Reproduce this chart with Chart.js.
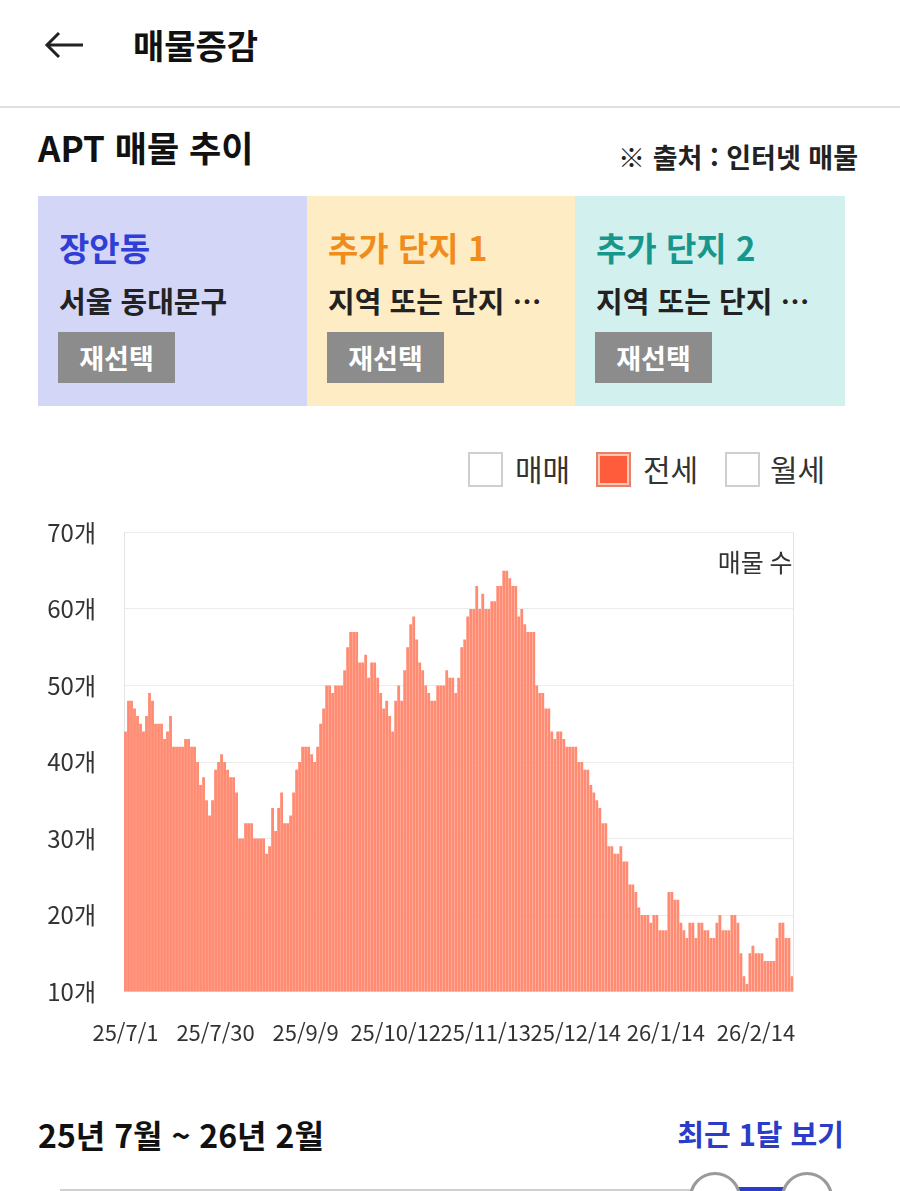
<!DOCTYPE html>
<html lang="ko">
<head>
<meta charset="utf-8">
<title>매물증감</title>
<script src="https://cdn.jsdelivr.net/npm/chart.js@4.4.1/dist/chart.umd.min.js"></script>
<style>
  html, body { margin: 0; padding: 0; background: #fff; }
  body {
    position: relative; width: 900px; height: 1191px; overflow: hidden;
    font-family: "Noto Sans CJK KR", "Noto Sans", sans-serif; color: #222;
  }
  .abs { position: absolute; white-space: nowrap; }
  .card { position: absolute; top: 196px; height: 210px; }
  .card .name { position: absolute; left: 21px; top: 29px; font-size: 33px; font-weight: 700; line-height: 44px; }
  .card .area { position: absolute; left: 21px; top: 84px; font-size: 29px; font-weight: 700; line-height: 40px; color: #222; }
  .card .btn {
    position: absolute; left: 20px; top: 136px; width: 117px; height: 51px;
    background: #8c8c8c; color: #fff; font-size: 27px; font-weight: 700;
    line-height: 51px; text-align: center;
  }
  .chk { position: absolute; top: 452px; width: 31px; height: 31px; border: 2px solid #cfcfcf; background: #fff; }
  .chk.on { background: #ff5c3c; border-color: #e9806a; box-shadow: inset 0 0 0 2px #ffc7b6; }
  .lg { position: absolute; top: 447px; font-size: 30px; line-height: 42px; color: #333; }
  #chartBox { position: absolute; left: 0; top: 490px; width: 820px; height: 584px; }
  .knob { position: absolute; top: 1172px; width: 46px; height: 46px; border: 3px solid #9a9a9a; border-radius: 50%; background: #fff; }
</style>
</head>
<body>

<svg class="abs" style="left:44px;top:30px" width="42" height="30">
  <line x1="3" y1="15" x2="39" y2="15" stroke="#222" stroke-width="3"/>
  <polyline points="15,3 3,15 15,27" fill="none" stroke="#222" stroke-width="3"/>
</svg>
<div class="abs" style="left:133px;top:22px;font-size:34px;font-weight:700;line-height:46px;color:#111">매물증감</div>
<div class="abs" style="left:0;top:106px;width:900px;height:2px;background:#e0e0e0"></div>

<div class="abs" style="left:38px;top:124px;font-size:35px;font-weight:700;line-height:46px;color:#111">APT 매물 추이</div>
<div class="abs" style="right:42px;top:139px;font-size:27px;font-weight:700;line-height:36px;color:#222">※ 출처 : 인터넷 매물</div>

<div class="card" style="left:38px;width:269px;background:#d4d6f8">
  <div class="name" style="color:#2f3fd6">장안동</div>
  <div class="area">서울 동대문구</div>
  <div class="btn">재선택</div>
</div>
<div class="card" style="left:307px;width:268px;background:#fdecc4">
  <div class="name" style="color:#f08c1c">추가 단지 1</div>
  <div class="area">지역 또는 단지 …</div>
  <div class="btn">재선택</div>
</div>
<div class="card" style="left:575px;width:270px;background:#d2f0ee">
  <div class="name" style="color:#17978c">추가 단지 2</div>
  <div class="area">지역 또는 단지 …</div>
  <div class="btn">재선택</div>
</div>

<div class="chk" style="left:468px"></div>
<div class="lg" style="left:515px">매매</div>
<div class="chk on" style="left:596px"></div>
<div class="lg" style="left:643px">전세</div>
<div class="chk" style="left:725px"></div>
<div class="lg" style="left:770px">월세</div>

<div id="chartBox"><canvas id="barChart"></canvas></div>

<div class="abs" style="left:38px;top:1112px;font-size:32px;font-weight:700;line-height:44px;color:#111">25년 7월 ~ 26년 2월</div>
<div class="abs" style="right:56px;top:1113px;font-size:29px;font-weight:700;line-height:40px;color:#2a3cc8">최근 1달 보기</div>

<div class="abs" style="left:60px;top:1189px;width:640px;height:2px;background:#cfcfcf"></div>
<div class="abs" style="left:735px;top:1187px;width:55px;height:4px;background:#2a3cc8"></div>
<div class="knob" style="left:689px"></div>
<div class="knob" style="left:781px"></div>

<script>
// daily 전세 listings
var values = [
  44, 48, 48, 47, 46, 45, 44, 46, 49, 48,
  45, 45, 45, 43, 44, 46, 42, 42, 42, 42,
  43, 43, 42, 42, 40, 37, 38, 35, 33, 35,
  39, 40, 41, 40, 39, 38, 38, 36, 30, 30,
  32, 32, 32, 30, 30, 30, 30, 28, 29, 34,
  31, 34, 36, 32, 32, 33, 36, 39, 40, 42,
  42, 42, 41, 40, 42, 45, 47, 50, 50, 49,
  50, 50, 50, 52, 55, 57, 57, 57, 53, 53,
  54, 51, 53, 53, 51, 49, 47, 48, 46, 44,
  48, 50, 48, 52, 55, 58, 59, 56, 53, 52,
  50, 49, 48, 48, 50, 50, 50, 52, 51, 51,
  49, 51, 55, 56, 59, 60, 60, 63, 60, 62,
  60, 60, 61, 61, 63, 63, 65, 65, 64, 63,
  63, 59, 60, 58, 57, 57, 57, 50, 49, 49,
  47, 47, 44, 43, 44, 44, 43, 42, 42, 42,
  42, 40, 40, 39, 39, 37, 36, 35, 34, 32,
  32, 29, 29, 28, 28, 29, 27, 27, 24, 24,
  23, 21, 20, 20, 20, 19, 20, 20, 18, 18,
  18, 23, 23, 22, 22, 19, 18, 17, 19, 19,
  17, 19, 19, 18, 18, 17, 17, 19, 20, 18,
  18, 18, 20, 20, 19, 15, 12, 11, 15, 16,
  15, 15, 15, 14, 14, 14, 14, 17, 19, 19,
  17, 17, 12
];

// x axis labels, one every 30 bars
var tickLabels = ['25/7/1', '25/7/30', '25/9/9', '25/10/12', '25/11/13', '25/12/14', '26/1/14', '26/2/14'];
var tickStep = 30;

// y axis range
var yMin = 10;
var yMax = 70;
var yStep = 10;

var categories = values.map(function (v, i) {
  return i % tickStep === 0 ? tickLabels[i / tickStep] : '';
});

// right border of the plot + the "매물 수" caption
var framePlugin = {
  id: 'frame',
  afterDraw: function (chart) {
    var ctx = chart.ctx;
    var a = chart.chartArea;
    ctx.save();
    ctx.strokeStyle = '#e4e4e4';
    ctx.lineWidth = 1;
    ctx.beginPath();
    ctx.moveTo(Math.round(a.right) + 0.5, a.top);
    ctx.lineTo(Math.round(a.right) + 0.5, a.bottom);
    ctx.stroke();
    ctx.fillStyle = '#333';
    ctx.font = '25px "Noto Sans CJK KR"';
    ctx.textAlign = 'right';
    ctx.textBaseline = 'middle';
    ctx.fillText('매물 수', a.right - 1, a.top + 30);
    ctx.restore();
  }
};

Chart.defaults.font.family = '"Noto Sans CJK KR", "Noto Sans", sans-serif';

function createBarChart() {
  var ctx = document.getElementById('barChart').getContext('2d');

  return new Chart(ctx, {
    type: 'bar',
    data: {
      labels: categories,
      datasets: [
        {
          label: '전세',
          data: values,
          backgroundColor: '#ff8b72',
          borderWidth: 0,
          barPercentage: 0.94,
          categoryPercentage: 1,
        },
      ],
    },
    options: {
      responsive: true,
      maintainAspectRatio: false,
      animation: false,
      layout: {
        padding: { left: 30, right: 26, top: 0, bottom: 0 },
      },
      scales: {
        x: {
          grid: { display: false, drawTicks: false },
          border: { display: true, color: '#e4e4e4' },
          ticks: {
            autoSkip: false,
            maxRotation: 0,
            padding: 28,
            color: '#333',
            font: { size: 22 },
          },
        },
        y: {
          min: yMin,
          max: yMax,
          afterFit: function (scale) {
            scale.width = 94;
          },
          grid: { color: '#ececec', drawTicks: false },
          border: { display: true, color: '#e4e4e4' },
          ticks: {
            stepSize: yStep,
            padding: 28,
            color: '#333',
            font: { size: 24 },
            callback: function (v) {
              return v + '개';
            },
          },
        },
      },
      plugins: {
        legend: { display: false },
        tooltip: { enabled: false },
      },
    },
    plugins: [framePlugin],
  });
}

var barChart = createBarChart();
</script>
</body>
</html>
